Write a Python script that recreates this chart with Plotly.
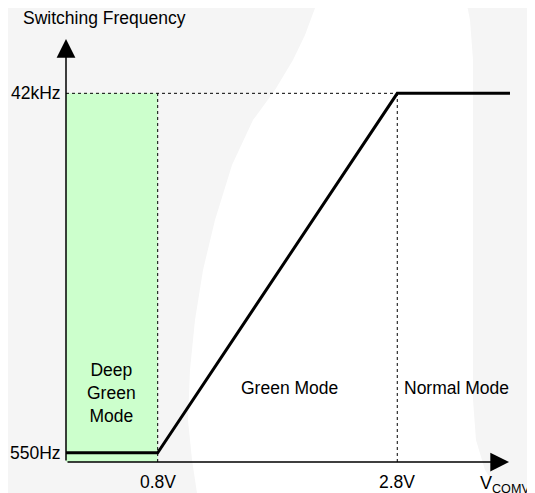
import plotly.graph_objects as go

# Data (volts, kHz)
x_pts = [0.0346, 0.8, 2.8, 3.741]
f_pts = [0.55, 0.55, 42.0, 42.0]
x_ticks = [0.8, 2.8]
x_tick_labels = ["0.8V", "2.8V"]
y_ticks = [0.55, 42.0]
y_tick_labels = ["550Hz", "42kHz"]
regions = ["Deep<br>Green<br>Mode", "Green Mode", "Normal Mode"]

X0, X1 = 0.0346, 3.908
Y0, Y1 = -0.522, 48.38
XTIP, YTIP = 3.733, 48.26
FONT = "Liberation Sans, Arial, sans-serif"
FS = 17.5

# plot area in window pixels (for faint background watermark)
PL, PR, PT, PB = 66, 530, 38, 462


def px(x, y):
    return (x - PL) / (PR - PL), (PB - y) / (PB - PT)


def path(points, curve=False):
    pts = [px(x, y) for x, y in points]
    s = "M %.4f %.4f " % pts[0]
    for p in pts[1:]:
        s += "L %.4f %.4f " % p
    return s + "Z"


fig = go.Figure()

wm = "#f5f5f5"
fig.add_shape(type="path", xref="paper", yref="paper", layer="below",
              path=path([(0, 0), (318, 0), (305, 35), (293, 60), (275, 90), (253, 120),
                         (232, 165), (215, 220), (203, 270), (195, 320), (190, 370),
                         (188, 420), (192, 460), (197, 493), (0, 493)]),
              fillcolor=wm, line=dict(width=0))
fig.add_shape(type="path", xref="paper", yref="paper", layer="below",
              path=path([(466, 0), (535, 0), (535, 493), (500, 493), (485, 470),
                         (476, 440), (473, 400), (473, 60), (470, 20)]),
              fillcolor=wm, line=dict(width=0))

# green region
fig.add_shape(type="rect", x0=X0, x1=x_ticks[0], y0=Y0, y1=y_ticks[1],
              fillcolor="#ccffcc", line=dict(width=0), layer="below")
# dotted guide lines
dot = dict(color="black", width=1, dash="dot")
fig.add_shape(type="line", x0=X0, x1=x_ticks[1], y0=y_ticks[1], y1=y_ticks[1], line=dot)
for xv in x_ticks:
    fig.add_shape(type="line", x0=xv, x1=xv, y0=Y0, y1=y_ticks[1], line=dot)

fig.add_trace(go.Scatter(x=x_pts, y=f_pts, mode="lines",
                         line=dict(color="black", width=3), hoverinfo="skip",
                         showlegend=False))

# axis arrows
fig.add_annotation(x=X0, y=YTIP, ax=X0, ay=Y0, xref="x", yref="y", axref="x", ayref="y",
                   showarrow=True, arrowhead=2, arrowsize=2.5, arrowwidth=1.5,
                   arrowcolor="black", text="")
fig.add_annotation(x=XTIP, y=Y0, ax=X0, ay=Y0, xref="x", yref="y", axref="x", ayref="y",
                   showarrow=True, arrowhead=2, arrowsize=2.5, arrowwidth=1.5,
                   arrowcolor="black", text="")

tf = dict(family=FONT, size=FS, color="black")
fig.add_annotation(x=(X0 + x_ticks[0]) / 2, y=7.43, text=regions[0], showarrow=False,
                   font=tf, align="center", yanchor="middle")
fig.add_annotation(x=1.9, y=8.01, text=regions[1], showarrow=False, font=tf,
                   yanchor="middle")
fig.add_annotation(x=x_ticks[1], xshift=5, y=8.01, text=regions[2], showarrow=False,
                   font=tf, xanchor="left", yanchor="middle")
fig.add_annotation(x=X0, y=YTIP, xshift=-45, yshift=21,
                   text="Switching Frequency", showarrow=False, font=tf,
                   xanchor="left", yanchor="middle")
fig.add_annotation(x=XTIP, y=Y0, xshift=-31, yshift=-22, text="V<sub>COMV</sub>",
                   showarrow=False, font=dict(family=FONT, size=18, color="black"),
                   xanchor="left", yanchor="middle")

# tick labels
for xv, lab in zip(x_ticks, x_tick_labels):
    fig.add_annotation(x=xv, y=Y0, yshift=-20, text=lab, showarrow=False, font=tf,
                       xanchor="center", yanchor="middle")
for yv, lab in zip(y_ticks, y_tick_labels):
    fig.add_annotation(x=X0, y=yv, xshift=-3, text=lab, showarrow=False, font=tf,
                       xanchor="right", yanchor="middle")

fig.update_xaxes(range=[X0, X1], visible=False)
fig.update_yaxes(range=[Y0, Y1], visible=False)

fig.update_layout(width=527, height=485, margin=dict(l=58, r=5, t=30, b=31),
                  plot_bgcolor="rgba(0,0,0,0)", paper_bgcolor="white")

fig.write_html("out.html")
